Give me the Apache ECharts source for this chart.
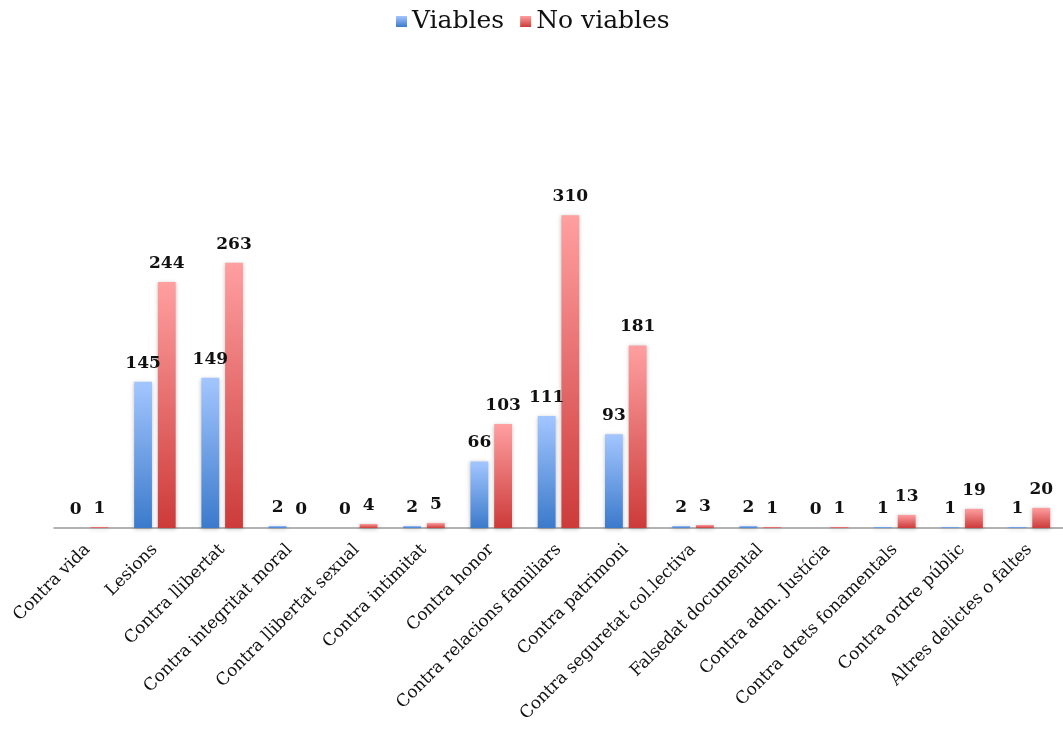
<!DOCTYPE html>
<html>
<head>
<meta charset="utf-8">
<script src="https://cdn.jsdelivr.net/npm/echarts@6/dist/echarts.min.js"></script>
<style>html,body{margin:0;padding:0;background:#fff}#c{width:1063px;height:731px}</style>
</head>
<body>
<div id="c"></div>
<script>
const categories = ["Contra vida","Lesions","Contra llibertat","Contra integritat moral","Contra llibertat sexual","Contra intimitat","Contra honor","Contra relacions familiars","Contra patrimoni","Contra seguretat col.lectiva","Falsedat documental","Contra adm. Justícia","Contra drets fonamentals","Contra ordre públic","Altres delictes o faltes"];
const viables = [0,145,149,2,0,2,66,111,93,2,2,0,1,1,1];
const noViables = [1,244,263,0,4,5,103,310,181,3,1,1,13,19,20];

const FONT = '"DejaVu Serif", serif';
function grad(top, bottom){
  return new echarts.graphic.LinearGradient(0,0,0,1,[{offset:0,color:top},{offset:1,color:bottom}]);
}
const chart = echarts.init(document.getElementById('c'), null, {renderer:'canvas'});
const labelCfg = {show:true, position:'top', distance:10, color:'#111', fontFamily:FONT, fontWeight:'bold', fontSize:17};
chart.setOption({
  animation:false,
  legend:{
    top:4, left:391, itemWidth:11, itemHeight:11, itemGap:16, icon:'rect',
    textStyle:{fontFamily:FONT, fontSize:25, color:'#111'},
    data:['Viables','No viables']
  },
  grid:{left:54, right:-11, top:175, bottom:203, containLabel:false},
  xAxis:{
    type:'category', data:categories,
    axisLine:{lineStyle:{color:'#999', width:1.5}},
    axisTick:{show:false},
    axisLabel:{rotate:45, interval:0, fontFamily:FONT, fontSize:17, color:'#111', margin:19}
  },
  yAxis:{type:'value', min:0, max:350, show:false, splitLine:{show:false}},
  series:[
    {name:'Viables', type:'bar', data:viables, barWidth:'26.5%', barGap:'33%',
     itemStyle:{color:grad('#a3c6ff','#3b7acb'), shadowColor:'rgba(0,0,0,0.25)', shadowBlur:4, shadowOffsetY:1},
     label:labelCfg},
    {name:'No viables', type:'bar', data:noViables, barWidth:'26.5%',
     itemStyle:{color:grad('#ff9fa0','#cc3b3a'), shadowColor:'rgba(0,0,0,0.25)', shadowBlur:4, shadowOffsetY:1},
     label:labelCfg}
  ]
});
</script>
</body>
</html>
